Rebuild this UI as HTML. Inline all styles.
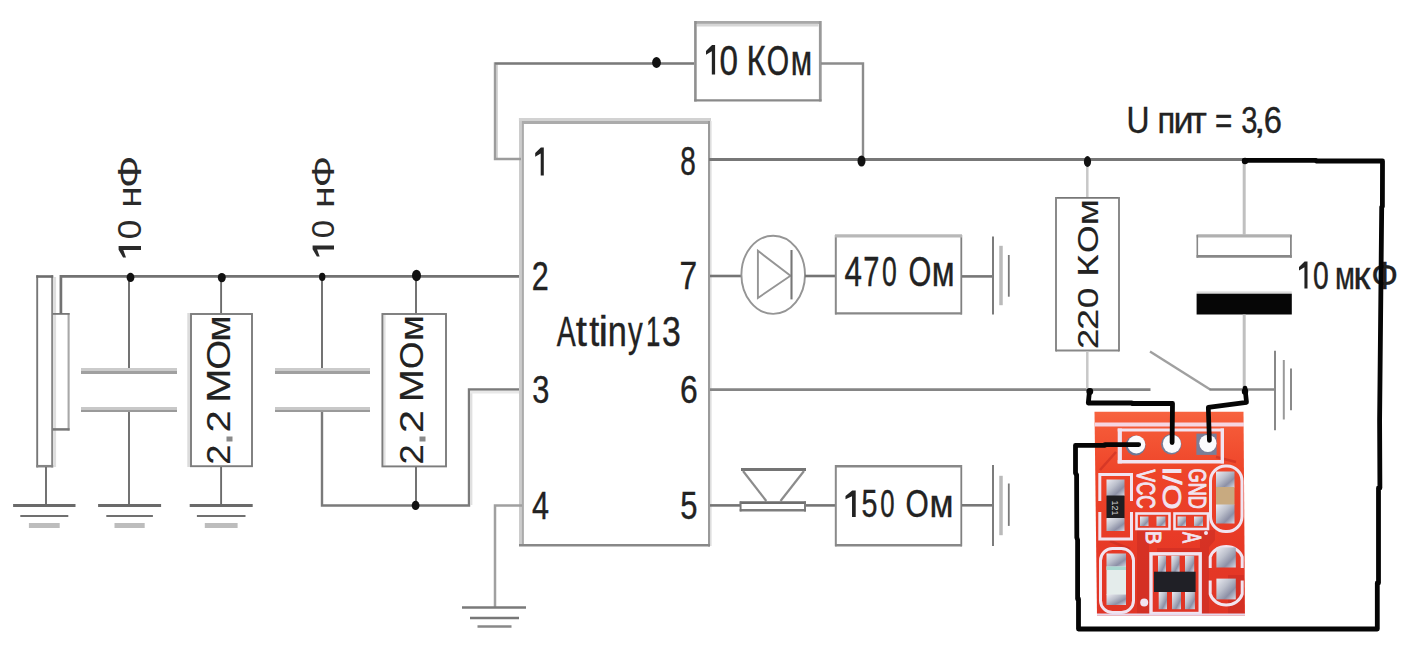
<!DOCTYPE html>
<html><head><meta charset="utf-8"><style>
html,body{margin:0;padding:0;background:#fff;}
svg{display:block;}
text{font-family:"Liberation Sans",sans-serif;font-kerning:none;}
</style></head><body>
<svg width="1410" height="648" viewBox="0 0 1410 648">
<rect width="1410" height="648" fill="#ffffff"/>
<line x1="54.9" y1="277" x2="54.9" y2="467" stroke="#dedede" stroke-width="2.4" />
<line x1="37.2" y1="275.3" x2="37.2" y2="467.4" stroke="#777" stroke-width="1.9" />
<line x1="52.2" y1="275.3" x2="52.2" y2="467.4" stroke="#858585" stroke-width="2" />
<line x1="36.3" y1="276.5" x2="53.2" y2="276.5" stroke="#6c6c6c" stroke-width="2.6" />
<line x1="36.3" y1="466.2" x2="53.2" y2="466.2" stroke="#858585" stroke-width="2.5" />
<line x1="68.6" y1="313" x2="68.6" y2="430.5" stroke="#a8a8a8" stroke-width="2.1" />
<line x1="52.5" y1="313.9" x2="69.6" y2="313.9" stroke="#777" stroke-width="1.8" />
<line x1="52.5" y1="429.4" x2="69.6" y2="429.4" stroke="#777" stroke-width="2.5" />
<polyline points="60.9,314 60.9,276.45 522,276.45" fill="none" stroke="#727272" stroke-width="2.7" />
<line x1="46" y1="467" x2="46" y2="504" stroke="#6c6c6c" stroke-width="1.9" />
<line x1="13.099999999999998" y1="505.5" x2="75.5" y2="505.5" stroke="#6a6a6a" stroke-width="3" />
<line x1="20.299999999999997" y1="516" x2="68.3" y2="516" stroke="#707070" stroke-width="2" />
<line x1="28.9" y1="525.5" x2="59.699999999999996" y2="525.5" stroke="#bdbdbd" stroke-width="5" />
<line x1="129" y1="277" x2="129" y2="368" stroke="#6c6c6c" stroke-width="1.9" />
<line x1="81" y1="369.5" x2="177" y2="369.5" stroke="#cbcbcb" stroke-width="3" />
<line x1="81" y1="372.4" x2="177" y2="372.4" stroke="#a0a0a0" stroke-width="3" />
<line x1="81" y1="408.4" x2="177" y2="408.4" stroke="#c8c8c8" stroke-width="2.8" />
<line x1="81" y1="410.9" x2="177" y2="410.9" stroke="#9a9a9a" stroke-width="2.2" />
<line x1="129" y1="412" x2="129" y2="504" stroke="#6c6c6c" stroke-width="1.9" />
<line x1="98.1" y1="505.5" x2="161.1" y2="505.5" stroke="#6a6a6a" stroke-width="3" />
<line x1="106.3" y1="516" x2="152.9" y2="516" stroke="#707070" stroke-width="2" />
<line x1="114.5" y1="525.5" x2="144.7" y2="525.5" stroke="#bdbdbd" stroke-width="5" />
<ellipse cx="130.5" cy="277.4" rx="3.9" ry="4.6" fill="#111"/>
<line x1="221.1" y1="277" x2="221.1" y2="313.5" stroke="#6c6c6c" stroke-width="1.9" />
<line x1="188.7" y1="313" x2="188.7" y2="467" stroke="#dcdcdc" stroke-width="2.8" />
<rect x="191" y="314" width="61" height="152.2" fill="none" stroke="#7c7c7c" stroke-width="1.9" />
<line x1="221.1" y1="467" x2="221.1" y2="504" stroke="#6c6c6c" stroke-width="1.9" />
<line x1="189.7" y1="505.5" x2="252.7" y2="505.5" stroke="#6a6a6a" stroke-width="3" />
<line x1="196.89999999999998" y1="516" x2="245.5" y2="516" stroke="#707070" stroke-width="2" />
<line x1="204.79999999999998" y1="525.5" x2="237.6" y2="525.5" stroke="#bdbdbd" stroke-width="5" />
<ellipse cx="221.8" cy="277.6" rx="4" ry="4.7" fill="#111"/>
<line x1="322" y1="277" x2="322" y2="368" stroke="#6c6c6c" stroke-width="1.9" />
<line x1="275" y1="369.5" x2="370" y2="369.5" stroke="#cbcbcb" stroke-width="3" />
<line x1="275" y1="372.4" x2="370" y2="372.4" stroke="#a0a0a0" stroke-width="3" />
<line x1="275" y1="408.4" x2="370" y2="408.4" stroke="#c8c8c8" stroke-width="2.8" />
<line x1="275" y1="410.9" x2="370" y2="410.9" stroke="#9a9a9a" stroke-width="2.2" />
<polyline points="322,412 322,505.5 469,505.5 469,389.5 520,389.5" fill="none" stroke="#7a7a7a" stroke-width="2.4" />
<line x1="471.2" y1="391" x2="471.2" y2="505" stroke="#e0e0e0" stroke-width="2.4" />
<line x1="470" y1="392.1" x2="520" y2="392.1" stroke="#e8e8e8" stroke-width="2.6" />
<ellipse cx="322.2" cy="276.9" rx="3.2" ry="4.1" fill="#111"/>
<line x1="416" y1="277" x2="416" y2="313.5" stroke="#6c6c6c" stroke-width="1.9" />
<line x1="384.4" y1="315" x2="384.4" y2="465.5" stroke="#e2e2e2" stroke-width="2.4" />
<rect x="382.4" y="314" width="63.60000000000002" height="152.39999999999998" fill="none" stroke="#7c7c7c" stroke-width="1.9" />
<line x1="416" y1="467" x2="416" y2="505" stroke="#6c6c6c" stroke-width="1.9" />
<ellipse cx="416.5" cy="275.5" rx="4.5" ry="5.8" fill="#111"/>
<ellipse cx="415.6" cy="505.4" rx="3.9" ry="4.6" fill="#111"/>
<g font-size="100" fill="#2a2a2a"><path transform="matrix(0,-11.50,22.40,0,118.60,257.40)" d="M1,0 L1,1 L0.64,1 L0.64,0.21 L0,0.33 L0,0.2 L0.66,0 Z"/><text transform="translate(141.00,239.28) rotate(-90) scale(0.3535,0.3256)" stroke="#2a2a2a" stroke-width="0.00">0</text><text transform="translate(141.00,207.68) rotate(-90) scale(0.3869,0.3256)" stroke="#2a2a2a" stroke-width="0.00">н</text><text transform="translate(141.00,187.96) rotate(-90) scale(0.4263,0.3256)" stroke="#2a2a2a" stroke-width="0.00">Ф</text></g>
<g font-size="100" fill="#2a2a2a"><path transform="matrix(0,-11.10,21.40,0,312.60,256.50)" d="M1,0 L1,1 L0.64,1 L0.64,0.21 L0,0.33 L0,0.2 L0.66,0 Z"/><text transform="translate(334.00,238.28) rotate(-90) scale(0.3284,0.3111)" stroke="#2a2a2a" stroke-width="0.00">0</text><text transform="translate(334.00,207.93) rotate(-90) scale(0.3941,0.3111)" stroke="#2a2a2a" stroke-width="0.00">н</text><text transform="translate(334.00,187.60) rotate(-90) scale(0.4170,0.3111)" stroke="#2a2a2a" stroke-width="0.00">Ф</text></g>
<g font-size="100" fill="#222222"><text transform="translate(229.60,464.82) rotate(-90) scale(0.3622,0.3241)" stroke="#222222" stroke-width="0.44">2</text><text transform="translate(229.60,432.60) rotate(-90) scale(0.3973,0.3241)" stroke="#222222" stroke-width="0.42">2</text><text transform="translate(229.60,402.77) rotate(-90) scale(0.4111,0.3241)" stroke="#222222" stroke-width="0.41">М</text><text transform="translate(229.60,369.82) rotate(-90) scale(0.3853,0.3241)" stroke="#222222" stroke-width="0.42">О</text><text transform="translate(229.60,341.65) rotate(-90) scale(0.3823,0.3241)" stroke="#222222" stroke-width="0.42">м</text></g>
<rect x="226.5" y="436.5" width="6.0" height="5.0" fill="#8a8a8a" />
<g font-size="100" fill="#222222"><text transform="translate(422.80,464.43) rotate(-90) scale(0.3644,0.3241)" stroke="#222222" stroke-width="0.44">2</text><text transform="translate(422.80,432.88) rotate(-90) scale(0.4127,0.3241)" stroke="#222222" stroke-width="0.41">2</text><text transform="translate(422.80,402.37) rotate(-90) scale(0.3991,0.3241)" stroke="#222222" stroke-width="0.41">М</text><text transform="translate(422.80,369.07) rotate(-90) scale(0.3516,0.3241)" stroke="#222222" stroke-width="0.44">О</text><text transform="translate(422.80,341.10) rotate(-90) scale(0.3750,0.3241)" stroke="#222222" stroke-width="0.43">м</text></g>
<rect x="419.5" y="436.5" width="6.0" height="5.0" fill="#8a8a8a" />
<line x1="520.5" y1="118" x2="520.5" y2="546" stroke="#cccccc" stroke-width="3" />
<line x1="518.9" y1="119.5" x2="711" y2="119.5" stroke="#d2d2d2" stroke-width="3" />
<line x1="522.9" y1="122.5" x2="709" y2="122.5" stroke="#ababab" stroke-width="3" />
<line x1="522.9" y1="121" x2="522.9" y2="546" stroke="#ababab" stroke-width="2" />
<line x1="709" y1="121" x2="709" y2="546.5" stroke="#9a9a9a" stroke-width="2" />
<line x1="710.8" y1="121" x2="710.8" y2="546" stroke="#dedede" stroke-width="1.6" />
<line x1="519" y1="545.2" x2="710" y2="545.2" stroke="#888888" stroke-width="2.5" />
<line x1="497" y1="64" x2="497" y2="159" stroke="#d6d6d6" stroke-width="2" />
<polyline points="521,159 495,159 495,63.5 694,63.5" fill="none" stroke="#9c9c9c" stroke-width="2.4" />
<line x1="495" y1="63.5" x2="694" y2="63.5" stroke="#7a7a7a" stroke-width="2" />
<ellipse cx="656.5" cy="62.5" rx="4.4" ry="5.4" fill="#111"/>
<line x1="696" y1="22.5" x2="820.5" y2="22.5" stroke="#a8a8a8" stroke-width="3" />
<line x1="697" y1="25.2" x2="818.5" y2="25.2" stroke="#d6d6d6" stroke-width="2.7" />
<line x1="695.4" y1="21" x2="695.4" y2="101.5" stroke="#909090" stroke-width="2.6" />
<line x1="820.3" y1="21" x2="820.3" y2="101.5" stroke="#999999" stroke-width="2.8" />
<line x1="694.2" y1="100.3" x2="821.5" y2="100.3" stroke="#8a8a8a" stroke-width="2.3" />
<g font-size="100" fill="#222222"><path transform="matrix(9.10,0,0,29.50,706.00,45.00)" d="M1,0 L1,1 L0.64,1 L0.64,0.21 L0,0.33 L0,0.2 L0.66,0 Z"/><text transform="translate(719.50,74.50) scale(0.3326,0.4288)" stroke="#222222" stroke-width="0.92">0</text><text transform="translate(746.58,74.50) scale(0.3316,0.4288)" stroke="#222222" stroke-width="0.92">К</text><text transform="translate(766.74,74.50) scale(0.2871,0.4288)" stroke="#222222" stroke-width="0.98">О</text><text transform="translate(790.84,74.50) scale(0.3113,0.4288)" stroke="#222222" stroke-width="0.95">м</text></g>
<polyline points="821,63.5 863,63.5 863,160" fill="none" stroke="#8c8c8c" stroke-width="2.4" />
<line x1="709" y1="159.5" x2="1245" y2="159.5" stroke="#777777" stroke-width="2.8" />
<ellipse cx="861.5" cy="161" rx="4" ry="5.6" fill="#111"/>
<g font-size="100" fill="#222222"><path transform="matrix(8.60,0,0,28.00,535.20,147.50)" d="M1,0 L1,1 L0.64,1 L0.64,0.21 L0,0.33 L0,0.2 L0.66,0 Z"/></g>
<g font-size="100" fill="#222222"><text transform="translate(680.19,174.50) scale(0.2792,0.4070)" stroke="#222222" stroke-width="1.02">8</text></g>
<g font-size="100" fill="#222222"><text transform="translate(531.77,289.50) scale(0.3051,0.3997)" stroke="#222222" stroke-width="0.99">2</text></g>
<g font-size="100" fill="#222222"><text transform="translate(679.48,288.80) scale(0.3168,0.3968)" stroke="#222222" stroke-width="0.98">7</text></g>
<g font-size="100" fill="#222222"><text transform="translate(532.23,403.30) scale(0.3079,0.3895)" stroke="#222222" stroke-width="1.00">3</text></g>
<g font-size="100" fill="#222222"><text transform="translate(679.98,403.30) scale(0.3186,0.3895)" stroke="#222222" stroke-width="0.99">6</text></g>
<g font-size="100" fill="#222222"><text transform="translate(531.90,519.00) scale(0.3056,0.3852)" stroke="#222222" stroke-width="1.01">4</text></g>
<g font-size="100" fill="#222222"><text transform="translate(680.36,518.70) scale(0.3100,0.3808)" stroke="#222222" stroke-width="1.01">5</text></g>
<g font-size="100" fill="#222222"><text transform="translate(556.84,346.40) scale(0.2850,0.4201)" stroke="#222222" stroke-width="0.99">A</text><text transform="translate(575.69,346.40) scale(0.4033,0.4201)" stroke="#222222" stroke-width="0.85">t</text><text transform="translate(589.15,346.40) scale(0.3603,0.4201)" stroke="#222222" stroke-width="0.90">t</text><text transform="translate(598.51,346.40) scale(0.4324,0.4201)" stroke="#222222" stroke-width="0.82">i</text><text transform="translate(607.82,346.40) scale(0.3437,0.4201)" stroke="#222222" stroke-width="0.92">n</text><text transform="translate(628.03,346.40) scale(0.2946,0.4201)" stroke="#222222" stroke-width="0.98">y</text><text transform="translate(645.94,346.40) scale(0.2574,0.4201)" stroke="#222222" stroke-width="1.03">1</text><text transform="translate(661.91,346.40) scale(0.3375,0.4201)" stroke="#222222" stroke-width="0.92">3</text></g>
<polyline points="522,505.5 495,505.5 495,607" fill="none" stroke="#a0a0a0" stroke-width="2.5" />
<line x1="462" y1="607.5" x2="526" y2="607.5" stroke="#7a7a7a" stroke-width="2.5" />
<line x1="470" y1="618" x2="519" y2="618" stroke="#777" stroke-width="2.5" />
<line x1="477.5" y1="626.5" x2="511.5" y2="626.5" stroke="#888" stroke-width="2.5" />
<line x1="710" y1="276" x2="742" y2="276" stroke="#747474" stroke-width="2.6" />
<ellipse cx="773.2" cy="274.8" rx="31.8" ry="39.1" fill="none" stroke="#959595" stroke-width="1.9"/>
<polygon points="757.9,250.8 757.9,298 790.5,275.8" fill="none" stroke="#959595" stroke-width="1.9"/>
<line x1="791.5" y1="250" x2="791.5" y2="299.4" stroke="#777" stroke-width="2.1" />
<line x1="805" y1="276" x2="835.5" y2="276" stroke="#747474" stroke-width="2.6" />
<line x1="835.8" y1="235" x2="835.8" y2="314.5" stroke="#8a8a8a" stroke-width="2" />
<line x1="961.3" y1="235" x2="961.3" y2="314.5" stroke="#808080" stroke-width="1.8" />
<line x1="835" y1="235.8" x2="962" y2="235.8" stroke="#b8b8b8" stroke-width="3.2" />
<line x1="835" y1="313.4" x2="962" y2="313.4" stroke="#888888" stroke-width="2.2" />
<g font-size="100" fill="#222222"><text transform="translate(844.38,285.50) scale(0.3136,0.4215)" stroke="#222222" stroke-width="0.95">4</text><text transform="translate(863.21,285.50) scale(0.2904,0.4215)" stroke="#222222" stroke-width="0.98">7</text><text transform="translate(881.96,285.50) scale(0.2657,0.4215)" stroke="#222222" stroke-width="1.02">0</text><text transform="translate(908.41,285.50) scale(0.2930,0.4215)" stroke="#222222" stroke-width="0.98">О</text><text transform="translate(931.69,285.50) scale(0.3331,0.4215)" stroke="#222222" stroke-width="0.93">м</text></g>
<line x1="962" y1="276.4" x2="993" y2="276.4" stroke="#777" stroke-width="2.6" />
<line x1="993" y1="236.6" x2="993" y2="314.4" stroke="#7c7c7c" stroke-width="2" />
<line x1="1001" y1="245.8" x2="1001" y2="305.2" stroke="#bababa" stroke-width="3.5" />
<line x1="1008.8" y1="255" x2="1008.8" y2="296.7" stroke="#7a7a7a" stroke-width="1.8" />
<line x1="710" y1="505.4" x2="740" y2="505.4" stroke="#747474" stroke-width="2.6" />
<line x1="741" y1="469.5" x2="806" y2="469.5" stroke="#747474" stroke-width="2.8" />
<line x1="743" y1="471" x2="766.3" y2="501" stroke="#8c8c8c" stroke-width="2.2" />
<line x1="804" y1="471" x2="780.5" y2="501" stroke="#8c8c8c" stroke-width="2.2" />
<line x1="739.7" y1="502.6" x2="806" y2="502.6" stroke="#6e6e6e" stroke-width="2.8" />
<line x1="739.7" y1="510.2" x2="806" y2="510.2" stroke="#7e7e7e" stroke-width="2.4" />
<line x1="740.6" y1="501.5" x2="740.6" y2="511.4" stroke="#777" stroke-width="1.9" />
<line x1="805" y1="501.5" x2="805" y2="511.4" stroke="#777" stroke-width="1.9" />
<line x1="806" y1="505.4" x2="835.5" y2="505.4" stroke="#747474" stroke-width="2.6" />
<line x1="835.8" y1="465" x2="835.8" y2="546.3" stroke="#8a8a8a" stroke-width="2" />
<line x1="961.3" y1="465" x2="961.3" y2="546.3" stroke="#808080" stroke-width="1.8" />
<line x1="835" y1="466.2" x2="962" y2="466.2" stroke="#888888" stroke-width="2.4" />
<line x1="835" y1="545.2" x2="962" y2="545.2" stroke="#888888" stroke-width="2.4" />
<g font-size="100" fill="#222222"><path transform="matrix(10.20,0,0,26.40,845.50,490.60)" d="M1,0 L1,1 L0.64,1 L0.64,0.21 L0,0.33 L0,0.2 L0.66,0 Z"/><text transform="translate(861.45,517.00) scale(0.2868,0.3837)" stroke="#222222" stroke-width="1.04">5</text><text transform="translate(880.29,517.00) scale(0.2573,0.3837)" stroke="#222222" stroke-width="1.09">0</text><text transform="translate(905.38,517.00) scale(0.2988,0.3837)" stroke="#222222" stroke-width="1.03">О</text><text transform="translate(929.48,517.00) scale(0.3495,0.3837)" stroke="#222222" stroke-width="0.95">м</text></g>
<line x1="962" y1="505.3" x2="993" y2="505.3" stroke="#777" stroke-width="2.6" />
<line x1="993" y1="465" x2="993" y2="546" stroke="#7c7c7c" stroke-width="2" />
<line x1="1001" y1="475.8" x2="1001" y2="535.2" stroke="#bababa" stroke-width="3.5" />
<line x1="1008.8" y1="483.5" x2="1008.8" y2="525.9" stroke="#7a7a7a" stroke-width="1.8" />
<line x1="710" y1="389.6" x2="1150.5" y2="389.6" stroke="#858585" stroke-width="2.6" />
<line x1="1150" y1="351.6" x2="1210.2" y2="389.4" stroke="#a0a0a0" stroke-width="2.4" />
<line x1="1209.5" y1="389.5" x2="1275" y2="389.5" stroke="#888888" stroke-width="2.6" />
<line x1="1275" y1="350.8" x2="1275" y2="430.3" stroke="#888888" stroke-width="2" />
<line x1="1283.8" y1="360" x2="1283.8" y2="419.5" stroke="#9a9a9a" stroke-width="2" />
<line x1="1291" y1="368.5" x2="1291" y2="410.2" stroke="#8a8a8a" stroke-width="2" />
<g font-size="100" fill="#222222"><text transform="translate(1126.54,133.30) scale(0.3187,0.3677)" stroke="#222222" stroke-width="1.02">U</text><text transform="translate(1157.53,133.30) scale(0.3277,0.3677)" stroke="#222222" stroke-width="1.01">п</text><text transform="translate(1173.51,133.30) scale(0.3596,0.3677)" stroke="#222222" stroke-width="0.96">и</text><text transform="translate(1190.49,133.30) scale(0.3563,0.3677)" stroke="#222222" stroke-width="0.97">т</text><text transform="translate(1215.05,133.30) scale(0.2964,0.3677)" stroke="#222222" stroke-width="1.05">=</text><text transform="translate(1241.29,133.30) scale(0.2911,0.3677)" stroke="#222222" stroke-width="1.06">3</text><text transform="translate(1253.66,133.30) scale(0.4279,0.3677)" stroke="#222222" stroke-width="0.88">,</text><text transform="translate(1263.64,133.30) scale(0.3272,0.3677)" stroke="#222222" stroke-width="1.01">6</text></g>
<line x1="1087.3" y1="160" x2="1087.3" y2="197" stroke="#c8c8c8" stroke-width="2.5" />
<line x1="1056" y1="197.8" x2="1119" y2="197.8" stroke="#777777" stroke-width="1.8" />
<line x1="1056" y1="350.5" x2="1119" y2="350.5" stroke="#888888" stroke-width="2.2" />
<line x1="1056" y1="197" x2="1056" y2="351.5" stroke="#858585" stroke-width="1.9" />
<line x1="1119" y1="197" x2="1119" y2="351.5" stroke="#858585" stroke-width="1.9" />
<ellipse cx="1087.5" cy="161.5" rx="3.6" ry="5.4" fill="#111"/>
<g font-size="100" fill="#222222"><text transform="translate(1097.60,348.93) rotate(-90) scale(0.3644,0.3009)" stroke="#222222" stroke-width="0.45">2</text><text transform="translate(1097.60,329.91) rotate(-90) scale(0.3797,0.3009)" stroke="#222222" stroke-width="0.44">2</text><text transform="translate(1097.60,308.25) rotate(-90) scale(0.3724,0.3009)" stroke="#222222" stroke-width="0.45">0</text><text transform="translate(1097.60,276.72) rotate(-90) scale(0.3801,0.3009)" stroke="#222222" stroke-width="0.44">К</text><text transform="translate(1097.60,253.09) rotate(-90) scale(0.3560,0.3009)" stroke="#222222" stroke-width="0.46">О</text><text transform="translate(1097.60,225.33) rotate(-90) scale(0.3787,0.3009)" stroke="#222222" stroke-width="0.44">м</text></g>
<line x1="1087.3" y1="351.5" x2="1087.3" y2="389" stroke="#c8c8c8" stroke-width="2.5" />
<line x1="1244.2" y1="160" x2="1244.2" y2="234.5" stroke="#c0c0c0" stroke-width="3" />
<line x1="1196.6" y1="235.9" x2="1291.8" y2="235.9" stroke="#b0b0b0" stroke-width="3.2" />
<line x1="1196.6" y1="256.4" x2="1291.8" y2="256.4" stroke="#888888" stroke-width="2.6" />
<line x1="1197.3" y1="235" x2="1197.3" y2="257.7" stroke="#888888" stroke-width="1.6" />
<line x1="1290.9" y1="235" x2="1290.9" y2="257.7" stroke="#888888" stroke-width="1.8" />
<rect x="1196.6" y="291.4" width="95.20000000000005" height="2.3000000000000114" fill="#dddddd" />
<rect x="1196.6" y="293.7" width="95.20000000000005" height="20.80000000000001" fill="#060606" />
<line x1="1244.2" y1="314.5" x2="1244.2" y2="389" stroke="#c0c0c0" stroke-width="3" />
<g font-size="100" fill="#222222"><path transform="matrix(8.50,0,0,27.00,1299.00,261.50)" d="M1,0 L1,1 L0.64,1 L0.64,0.21 L0,0.33 L0,0.2 L0.66,0 Z"/><text transform="translate(1312.90,288.50) scale(0.2824,0.3924)" stroke="#222222" stroke-width="1.04">0</text><text transform="translate(1334.89,288.50) scale(0.2895,0.3924)" stroke="#222222" stroke-width="1.03">м</text><text transform="translate(1353.36,288.50) scale(0.3920,0.3924)" stroke="#222222" stroke-width="0.89">к</text><text transform="translate(1371.16,288.50) scale(0.3535,0.3924)" stroke="#222222" stroke-width="0.94">Ф</text></g>
<defs><linearGradient id="pg" x1="0" y1="0" x2="0" y2="1"><stop offset="0" stop-color="#f7633f"/><stop offset="0.07" stop-color="#f55a38"/><stop offset="0.3" stop-color="#ee4429"/><stop offset="0.7" stop-color="#e63826"/><stop offset="1" stop-color="#e03526"/></linearGradient><linearGradient id="pad" x1="0" y1="0" x2="1" y2="1"><stop offset="0" stop-color="#ececf2"/><stop offset="0.4" stop-color="#bcc0cc"/><stop offset="0.7" stop-color="#8c90a6"/><stop offset="1" stop-color="#d8dae4"/></linearGradient></defs>
<polygon points="1094.5,411.8 1243.5,411.8 1245,615.5 1097,615.5" fill="url(#pg)"/>
<g fill="#c92c24" opacity="0.55"><rect x="1137" y="527" width="12" height="88"/><rect x="1200" y="540" width="9" height="75"/><path d="M1157,548 L1200,548 L1200,530 L1215,530 L1215,540 L1205,552 L1157,552 Z"/><rect x="1228" y="575" width="16" height="40"/></g>
<path d="M1100,470 L1116,452 M1216,457 L1236,462 M1110,541 L1130,549" stroke="#c02820" stroke-width="2.5" fill="none" opacity="0.5"/>
<line x1="1095" y1="424.4" x2="1244" y2="424.4" stroke="#f6d6e2" stroke-width="4" />
<line x1="1119.8" y1="428.5" x2="1119.8" y2="463.4" stroke="#f1e4f0" stroke-width="4.2" />
<line x1="1117.7" y1="430" x2="1224" y2="430" stroke="#f1e4f0" stroke-width="3" />
<line x1="1117.7" y1="461.7" x2="1224" y2="461.7" stroke="#f1e4f0" stroke-width="3.4" />
<line x1="1222.3" y1="428.5" x2="1222.3" y2="463.4" stroke="#f1e4f0" stroke-width="3.4" />
<circle cx="1135.6" cy="445.5" r="10" fill="#6f7896"/>
<circle cx="1136.4" cy="444.5" r="8.9" fill="#fbfbfd"/>
<circle cx="1171.3" cy="444.3" r="10.2" fill="#747c98"/>
<circle cx="1171.9" cy="443.8" r="9.1" fill="#fbfbfd"/>
<rect x="1196.4" y="433.6" width="20.199999999999818" height="21.299999999999955" fill="#7a7e98" />
<circle cx="1207.9" cy="443.3" r="8.6" fill="#fbfbfd"/>
<polyline points="1099.8,501 1099.8,474.5 1131.5,474.5 1131.5,501" fill="none" stroke="#f1e4f0" stroke-width="3" />
<polyline points="1099.8,512 1099.8,539 1131.5,539 1131.5,512" fill="none" stroke="#f1e4f0" stroke-width="3" />
<rect x="1106.5" y="479.5" width="18.0" height="16.5" fill="url(#pad)" />
<rect x="1106.5" y="495.5" width="18.0" height="23.0" fill="#1e1e22" />
<rect x="1106.5" y="518" width="18.0" height="13" fill="url(#pad)" />
<text transform="translate(1112,500.5) rotate(90) scale(0.95,1)" font-size="9.5" fill="#d0d0d0">121</text>
<text transform="translate(1136.70,469.42) rotate(90) scale(0.1861,0.2515)" font-size="100" font-weight="normal" fill="#f1e4f0" stroke="#f1e4f0" stroke-width="4.11" stroke-linejoin="round" >VCC</text>
<text transform="translate(1163.20,466.52) rotate(90) scale(0.3226,0.2515)" font-size="100" font-weight="normal" fill="#f1e4f0" stroke="#f1e4f0" stroke-width="3.14" stroke-linejoin="round" >I/O</text>
<text transform="translate(1189.40,468.59) rotate(90) scale(0.1813,0.2413)" font-size="100" font-weight="normal" fill="#f1e4f0" stroke="#f1e4f0" stroke-width="4.26" stroke-linejoin="round" >GND</text>
<rect x="1136.5" y="513.5" width="33.0" height="15.5" fill="none" stroke="#f1e4f0" stroke-width="2.6" />
<rect x="1140" y="516.5" width="8.5" height="9.5" fill="url(#pad)" />
<rect x="1156.5" y="516.5" width="9.0" height="9.5" fill="url(#pad)" />
<rect x="1174.5" y="513.5" width="33.5" height="15.5" fill="none" stroke="#f1e4f0" stroke-width="2.6" />
<rect x="1177.5" y="516.5" width="8.5" height="9.5" fill="url(#pad)" />
<rect x="1194" y="516.5" width="9" height="9.5" fill="url(#pad)" />
<text transform="translate(1146.00,530.84) rotate(90) scale(0.2029,0.2180)" font-size="100" font-weight="normal" fill="#f1e4f0" stroke="#f1e4f0" stroke-width="4.28" stroke-linejoin="round" >B</text>
<text transform="translate(1183.00,531.97) rotate(90) scale(0.1659,0.2616)" font-size="100" font-weight="normal" fill="#f1e4f0" stroke="#f1e4f0" stroke-width="4.21" stroke-linejoin="round" >A</text>
<circle cx="1206" cy="533" r="2" fill="#f1e4f0"/>
<rect x="1210.5" y="466" width="31.5" height="65.5" rx="15" ry="15" fill="none" stroke="#f1e4f0" stroke-width="3"/>
<rect x="1216" y="471.5" width="18.5" height="16.0" fill="url(#pad)" />
<rect x="1216" y="487" width="18.5" height="18" fill="#c8aa80" />
<rect x="1216" y="504.5" width="18.5" height="19.0" fill="url(#pad)" />
<rect x="1100.5" y="548.5" width="33" height="64" rx="12" ry="12" fill="none" stroke="#f1e4f0" stroke-width="3"/>
<rect x="1106.5" y="553.5" width="19.5" height="13.5" fill="url(#pad)" />
<rect x="1106.5" y="566.5" width="19.5" height="28.5" fill="#e4eceb" />
<rect x="1106.5" y="566.5" width="19.5" height="3.5" fill="#a8d8d0" />
<rect x="1106.5" y="594.5" width="19.5" height="10.5" fill="url(#pad)" />
<rect x="1151" y="553.8" width="49.200000000000045" height="59.700000000000045" fill="none" stroke="#f1e4f0" stroke-width="3.4" />
<rect x="1158" y="555.7" width="8" height="16.299999999999955" fill="url(#pad)" />
<rect x="1171.3" y="555.7" width="8.299999999999955" height="16.299999999999955" fill="url(#pad)" />
<rect x="1185" y="555.7" width="9.200000000000045" height="16.299999999999955" fill="url(#pad)" />
<rect x="1158.7" y="592" width="8.299999999999955" height="17.200000000000045" fill="url(#pad)" />
<rect x="1172" y="592" width="9" height="17.200000000000045" fill="url(#pad)" />
<rect x="1185" y="592" width="9.900000000000091" height="17.200000000000045" fill="url(#pad)" />
<rect x="1154" y="571.7" width="41.59999999999991" height="20.299999999999955" fill="#202026" />
<circle cx="1144.2" cy="602.5" r="4" fill="#f1e4f0"/>
<path d="M1210.2,568 L1210.2,557 A16.5,14 0 0 1 1242.2,557 L1242.2,568" fill="none" stroke="#f1e4f0" stroke-width="3"/>
<path d="M1210.2,580.5 L1210.2,594 A16.5,14.5 0 0 0 1242.2,594 L1242.2,580.5" fill="none" stroke="#f1e4f0" stroke-width="3"/>
<rect x="1216.4" y="547.4" width="19.399999999999864" height="20.100000000000023" fill="url(#pad)" />
<rect x="1216.4" y="578.6" width="19.399999999999864" height="20.799999999999955" fill="url(#pad)" />
<line x1="1097" y1="614.5" x2="1245" y2="614.5" stroke="#e6d8ec" stroke-width="2" />
<polyline points="1244.5,160.3 1316.2,160.3 1316.2,161 1382.5,161 1382.4,206.4 1381.7,207.2 1379.6,420 1379.9,488 1378.5,488 1378.5,583 1377.3,583 1377.3,629 1078.5,629 1078.5,599 1077.6,599 1077.6,540 1076.8,537.5 1076.6,475 1075.5,473 1075.5,445.3 1105,445.3 1105,444.6 1138.7,444.6" fill="none" stroke="#050505" stroke-width="4.8" stroke-linejoin="round" stroke-linecap="round"/>
<polyline points="1089.5,391 1088.3,403 1131.8,403 1131.8,403.5 1172.5,403.5 1172.1,442.6" fill="none" stroke="#050505" stroke-width="4.8" stroke-linejoin="round" stroke-linecap="round"/>
<circle cx="1089.8" cy="391.5" r="3.4" fill="#050505"/>
<polyline points="1245,388 1246.5,402.3 1208.3,407.3 1209.4,440.4" fill="none" stroke="#050505" stroke-width="4.7" stroke-linejoin="round" stroke-linecap="round"/>
<circle cx="1245" cy="391.5" r="3.2" fill="#050505"/>
<circle cx="1245" cy="161" r="3.2" fill="#050505"/>
</svg></body></html>
